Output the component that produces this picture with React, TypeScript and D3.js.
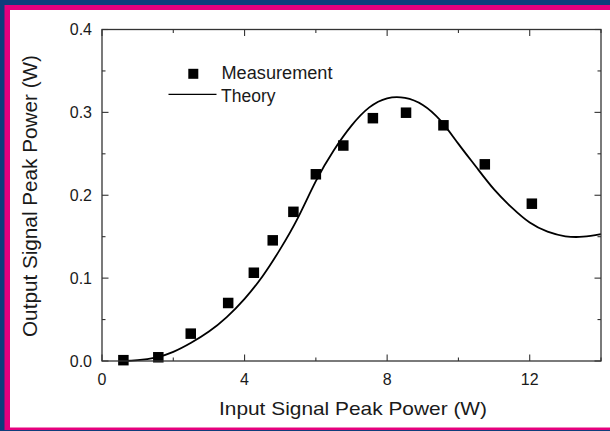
import React from "react";
import * as d3 from "d3";

const measX = [0.6, 1.58, 2.49, 3.54, 4.26, 4.79, 5.37, 6.0, 6.77, 7.6, 8.53, 9.58, 10.74, 12.06];
const measY = [0.001, 0.0045, 0.033, 0.07, 0.1065, 0.1456, 0.18, 0.2253, 0.26, 0.293, 0.2996, 0.2844, 0.2373, 0.1898];

const theoryX = [0.6, 1.0, 1.5, 2.0, 2.5, 3.0, 3.5, 4.0, 4.5, 5.0, 5.5, 6.0, 6.5, 7.0, 7.5, 8.0, 8.5, 9.0, 9.5, 10.0, 10.5, 11.0, 11.5, 12.0, 12.5, 13.0, 13.5, 14.0];
const theoryY = [0.0, 0.001, 0.004, 0.011, 0.022, 0.0355, 0.053, 0.075, 0.102, 0.135, 0.173, 0.217, 0.254, 0.284, 0.306, 0.317, 0.3175, 0.309, 0.29, 0.262, 0.234, 0.207, 0.185, 0.167, 0.156, 0.1505, 0.15, 0.153];

const xMajor = [0, 4, 8, 12];
const xMinor = [2, 6, 10, 14];
const yMajor = [0, 0.1, 0.2, 0.3, 0.4];
const yMinor = [0.05, 0.15, 0.25, 0.35];

const xTitle = "Input Signal Peak Power (W)";
const yTitle = "Output Signal Peak Power (W)";
const legendLabels = ["Measurement", "Theory"];

export default function App() {
  const W = 610, H = 431;
  const L = 102, R = 601, T = 29.5, B = 361;
  const x = d3.scaleLinear().domain([0, 14]).range([L, R]);
  const y = d3.scaleLinear().domain([0, 0.4]).range([B, T]);
  const line = d3
    .line<number>()
    .x((_, i) => x(theoryX[i]))
    .y((d) => y(d))
    .curve(d3.curveNatural);
  const font = "'Liberation Sans', Arial, sans-serif";
  const ink = "#1a1a1a";
  const axisColor = "#333";
  const maj = 6.5, min = 3.5;
  const sq = 10.5;

  return (
    <svg width={W} height={H} style={{ position: "fixed", left: 0, top: 0 }} fontFamily={font}>
      <rect x={0} y={0} width={W} height={H} fill="#0f3d7c" />
      <rect x={4.5} y={5} width={W} height={425} fill="#e6007e" />
      <rect x={10} y={10} width={W} height={417.5} fill="#ffffff" />

      {/* theory curve */}
      <path d={line(theoryY) || ""} fill="none" stroke="#000" strokeWidth={1.8} />

      {/* measurements */}
      {measX.map((mx, i) => (
        <rect key={i} x={x(mx) - sq / 2} y={y(measY[i]) - sq / 2} width={sq} height={sq} fill="#000" />
      ))}

      {/* frame */}
      <rect x={L} y={T} width={R - L} height={B - T} fill="none" stroke={axisColor} strokeWidth={1.3} />

      {/* x ticks */}
      {xMajor.map((v) => (
        <g key={"xm" + v}>
          <line x1={x(v)} x2={x(v)} y1={B} y2={B - maj} stroke={axisColor} strokeWidth={1.1} />
          <line x1={x(v)} x2={x(v)} y1={T} y2={T + maj} stroke={axisColor} strokeWidth={1.1} />
          <text x={x(v)} y={384.5} textAnchor="middle" fontSize={16} fill={ink}>
            {v}
          </text>
        </g>
      ))}
      {xMinor.map((v) => (
        <g key={"xn" + v}>
          <line x1={x(v)} x2={x(v)} y1={B} y2={B - min} stroke={axisColor} strokeWidth={1.1} />
          <line x1={x(v)} x2={x(v)} y1={T} y2={T + min} stroke={axisColor} strokeWidth={1.1} />
        </g>
      ))}

      {/* y ticks */}
      {yMajor.map((v) => (
        <g key={"ym" + v}>
          <line x1={L} x2={L + maj} y1={y(v)} y2={y(v)} stroke={axisColor} strokeWidth={1.1} />
          <line x1={R} x2={R - maj} y1={y(v)} y2={y(v)} stroke={axisColor} strokeWidth={1.1} />
          <text x={92} y={y(v)} dy="0.36em" textAnchor="end" fontSize={16} fill={ink}>
            {d3.format(".1f")(v)}
          </text>
        </g>
      ))}
      {yMinor.map((v) => (
        <g key={"yn" + v}>
          <line x1={L} x2={L + min} y1={y(v)} y2={y(v)} stroke={axisColor} strokeWidth={1.1} />
          <line x1={R} x2={R - min} y1={y(v)} y2={y(v)} stroke={axisColor} strokeWidth={1.1} />
        </g>
      ))}

      {/* axis titles */}
      <text x={(L + R) / 2 + 1.5} y={414.5} textAnchor="middle" fontSize={19} fill={ink} textLength={268} lengthAdjust="spacingAndGlyphs">
        {xTitle}
      </text>
      <text
        transform={`translate(36.5, ${196}) rotate(-90)`}
        textAnchor="middle"
        fontSize={20}
        fill={ink}
        textLength={282}
        lengthAdjust="spacingAndGlyphs"
      >
        {yTitle}
      </text>

      {/* legend */}
      <rect x={193.3 - 5} y={73.8 - 5} width={10} height={10} fill="#000" />
      <text x={221.5} y={78.5} fontSize={17.5} fill={ink} textLength={111} lengthAdjust="spacingAndGlyphs">
        {legendLabels[0]}
      </text>
      <line x1={168.5} x2={216.5} y1={94.3} y2={94.3} stroke="#000" strokeWidth={1.3} />
      <text x={221} y={101.7} fontSize={17.5} fill={ink}>
        {legendLabels[1]}
      </text>
    </svg>
  );
}
